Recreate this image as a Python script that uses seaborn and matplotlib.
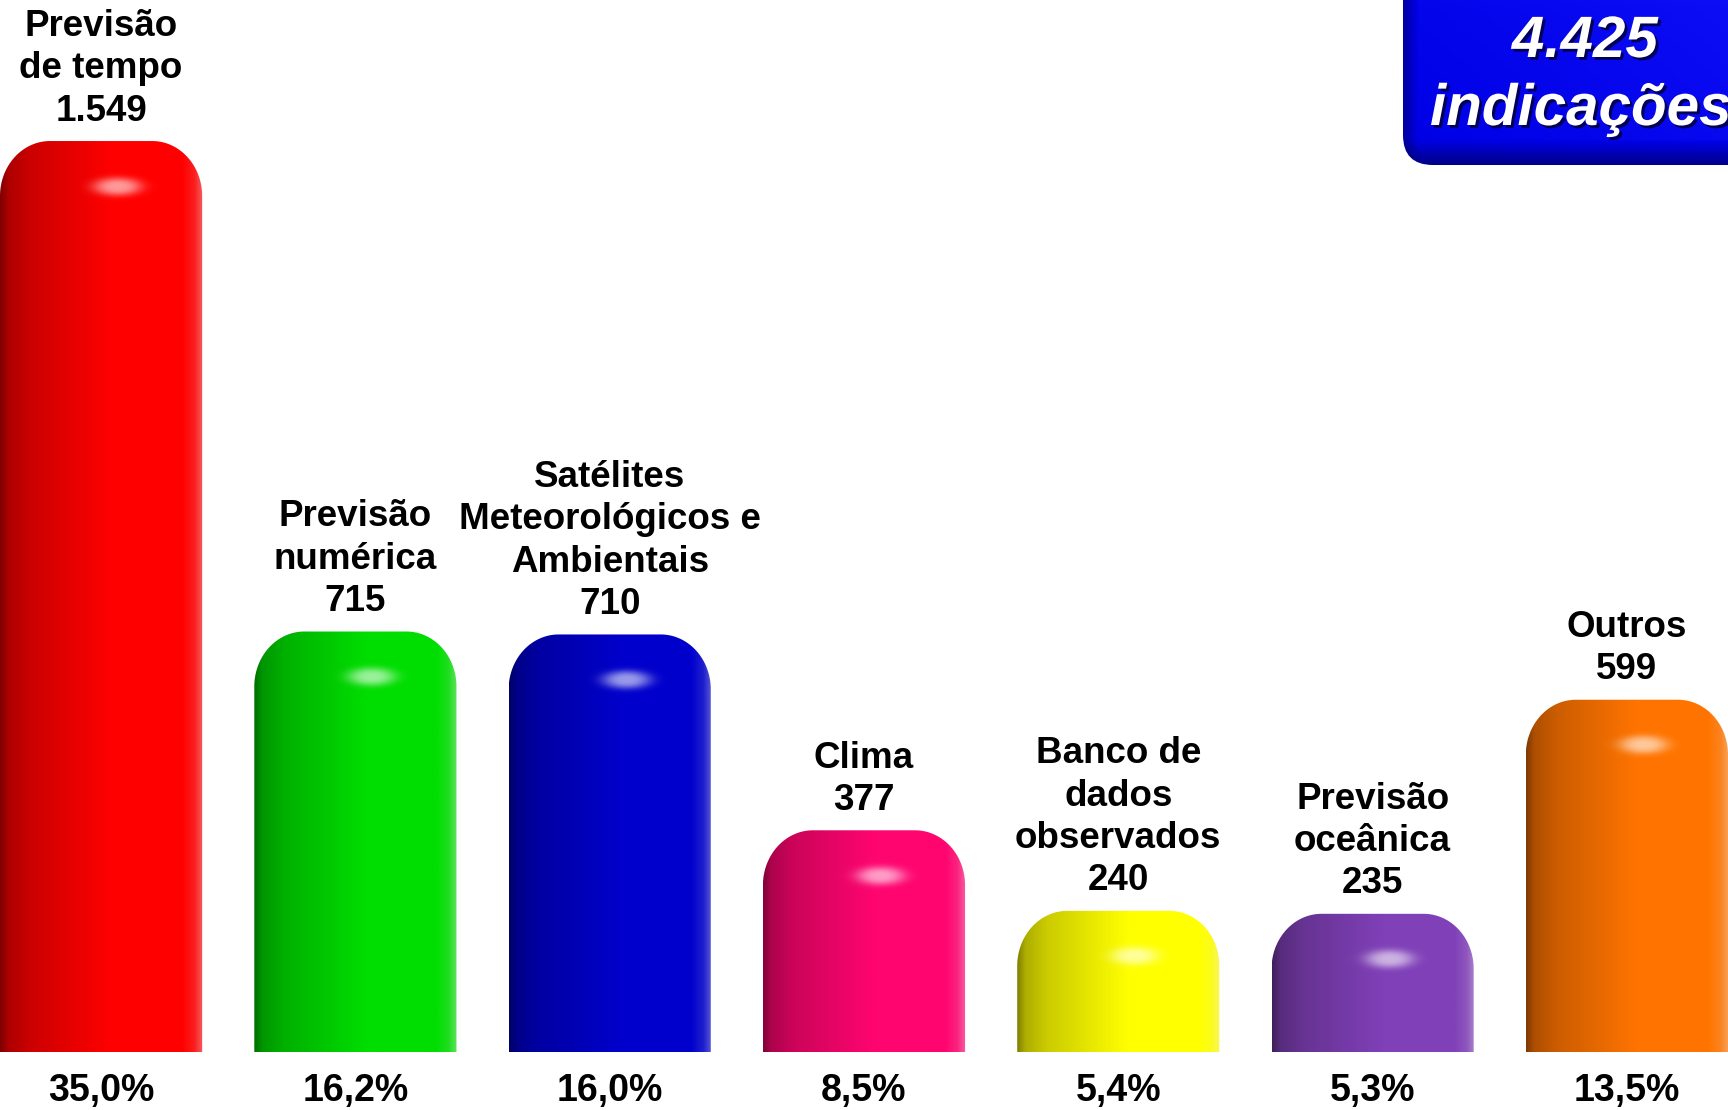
import numpy as np
import pandas as pd
import matplotlib
matplotlib.use('Agg')
import matplotlib.pyplot as plt
import seaborn as sns
from matplotlib.path import Path
from matplotlib.patches import PathPatch, FancyBboxPatch
from matplotlib import patheffects as pe

# Data
categories = ['Previsão\nde tempo', 'Previsão\nnumérica',
              'Satélites\nMeteorológicos e\nAmbientais', 'Clima',
              'Banco de\ndados\nobservados', 'Previsão\noceânica', 'Outros']
counts = [1549, 715, 710, 377, 240, 235, 599]
count_labels = ['1.549', '715', '710', '377', '240', '235', '599']
percents = ['35,0%', '16,2%', '16,0%', '8,5%', '5,4%', '5,3%', '13,5%']
colors = ['#FF0000', '#00DD00', '#0000CC', '#FF0570', '#FFFF00', '#8040B8', '#FF7400']
total_text = ['4.425', 'indicações']

df = pd.DataFrame({'cat': categories, 'n': counts})

W, H = 1728, 1110
BW = 0.795
YLIM = (-98.6, 1788.8)

sns.set_style('white')
plt.rcParams['font.family'] = ['Liberation Sans', 'DejaVu Sans']
plt.rcParams['text.color'] = 'black'

fig = plt.figure(figsize=(W / 100, H / 100), dpi=100)
ax = fig.add_axes([0, 0, 1, 1])
sns.barplot(data=df, x='cat', y='n', hue='cat', palette=colors, width=BW,
            saturation=1, legend=False, ax=ax)

px_x = W / (6 + BW)
px_y = H / (YLIM[1] - YLIM[0])
rx = 50 / px_x
ry = 55 / px_y


def capsule(x0, w, h, n=40):
    verts = [(x0, 0), (x0, h - ry)]
    t = np.linspace(np.pi, np.pi / 2, n)
    verts += list(zip(x0 + rx + rx * np.cos(t), h - ry + ry * np.sin(t)))
    t = np.linspace(np.pi / 2, 0, n)
    verts += list(zip(x0 + w - rx + rx * np.cos(t), h - ry + ry * np.sin(t)))
    verts += [(x0 + w, 0), (x0, 0)]
    codes = [Path.MOVETO] + [Path.LINETO] * (len(verts) - 2) + [Path.CLOSEPOLY]
    return Path(verts, codes)


for p in list(ax.patches):
    x0, w, h = p.get_x(), p.get_width(), p.get_height()
    i = int(round(x0 + w / 2))
    base = np.array(p.get_facecolor()[:3])
    p.set_visible(False)

    wpx = int(w * px_x)
    hpx = int(h * px_y)
    tx = np.linspace(0, 1, wpx)
    ypx = np.arange(hpx)[:, None]
    shade = np.interp(tx, [0, .04, .15, .35, .55, .92, 1], [.5, .68, .8, .9, 1, 1, .96])
    white = np.interp(tx, [0, .9, .96, 1], [0, 0, .12, .35])
    rgb = base[None, :] * shade[:, None]
    rgb = rgb + (1 - rgb) * white[:, None]
    img = np.repeat(rgb[None, :, :], hpx, axis=0)
    # highlight spot near top
    dx = (tx * wpx - 0.58 * wpx)[None, :]
    dy = ypx - (hpx - 46)
    a = np.exp(-((dx / 24) ** 2 + (dy / 9) ** 2) ** 1.5)
    img = img + (1 - img) * (0.6 * a)[:, :, None]

    clip = PathPatch(capsule(x0, w, h), transform=ax.transData,
                     facecolor='none', edgecolor='none')
    ax.add_patch(clip)
    im = ax.imshow(np.clip(img, 0, 1), extent=(x0, x0 + w, 0, h), origin='lower',
                   aspect='auto', interpolation='bilinear', zorder=2)
    im.set_clip_path(clip)

    ax.annotate(f'{categories[i]}\n{count_labels[i]}', xy=(x0 + w / 2, h),
                xytext=(0, 9), textcoords='offset points', ha='center', va='bottom',
                fontsize=26.5, fontweight='bold', linespacing=1.27, color='black')
    ax.text(x0 + w / 2, 19 / H, percents[i], transform=ax.get_xaxis_transform(),
            ha='center', va='center', fontsize=27, fontweight='bold', color='black',
            family=['Liberation Sans Narrow', 'Liberation Sans'])

ax.set_xlim(-BW / 2, 6 + BW / 2)
ax.set_ylim(*YLIM)
ax.axis('off')

# badge with the total, in pixel coordinates
ov = fig.add_axes([0, 0, 1, 1], zorder=5)
ov.set_xlim(0, W)
ov.set_ylim(H, 0)
ov.axis('off')
ov.patch.set_alpha(0)

box = FancyBboxPatch((1403, -40), 400, 205, boxstyle='round,pad=0,rounding_size=30',
                     facecolor='none', edgecolor='none')
ov.add_patch(box)
gy = np.linspace(-40, 165, 200)[:, None]
gx = np.linspace(1403, 1803, 300)[None, :]
lv = np.interp(gy, [-40, 10, 140, 165], [1.0, 0.97, 0.95, 0.55]) * \
    np.interp(gx, [1403, 1418, 1803], [0.65, 0.95, 1.0])
bimg = np.zeros((200, 300, 3))
bimg[..., 2] = lv
bimg[..., 0] = np.clip((lv - 0.9) * 0.8, 0, 1)
bimg[..., 1] = np.clip((lv - 0.9) * 0.8, 0, 1)
bim = ov.imshow(bimg, extent=(1403, 1803, 165, -40), aspect='auto', zorder=1)
bim.set_clip_path(box)
ov.set_xlim(0, W)
ov.set_ylim(H, 0)

shadow = [pe.withSimplePatchShadow(offset=(2, -2), shadow_rgbFace='#000033', alpha=0.8)]
ov.text(1585, 42, total_text[0], ha='center', va='center', color='white',
        fontsize=42, fontweight='bold', style='italic', path_effects=shadow, zorder=3)
ov.text(1430, 110, total_text[1], ha='left', va='center', color='white',
        fontsize=42, fontweight='bold', style='italic', path_effects=shadow, zorder=3)

fig.savefig('out.png', dpi=100)
